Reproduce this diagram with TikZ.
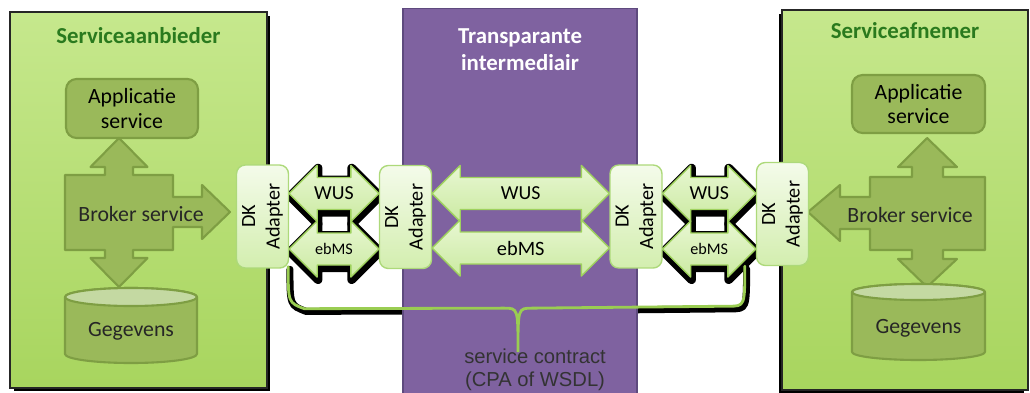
\documentclass[tikz,border=0pt]{standalone}
\usepackage{fontspec}
\setmainfont{Carlito}
\newfontfamily\arialfont{Liberation Sans}
\usetikzlibrary{positioning,calc,shadows}

\definecolor{limetop}{HTML}{C6E88D}
\definecolor{limebottom}{HTML}{A8D55E}
\definecolor{titlegreen}{HTML}{2A7A1E}
\definecolor{purplefill}{HTML}{7F62A0}
\definecolor{purpleline}{HTML}{5E4A7E}
\definecolor{olivefill}{HTML}{9AB95A}
\definecolor{oliveline}{HTML}{7E9E43}
\definecolor{olivetop}{HTML}{C4D9A2}
\definecolor{adaptertop}{HTML}{F4FBEA}
\definecolor{adapterbottom}{HTML}{D3EEAF}
\definecolor{adapterline}{HTML}{ADD97A}
\definecolor{arrowtop}{HTML}{E8F7D2}
\definecolor{arrowbottom}{HTML}{CBEAA2}
\definecolor{arrowline}{HTML}{9FD25E}
\definecolor{contractgreen}{HTML}{9ACD52}

\pgfdeclarelayer{back}
\pgfsetlayers{back,main}

\tikzset{
    lime-box/.style = {draw=black!85, line width=1pt, top color=limetop, bottom color=limebottom, rectangle, inner sep=0pt},
    purple-box/.style = {draw=purpleline, fill=purplefill, line width=1pt, rectangle, inner sep=0pt},
    box-title/.style = {font=\fontsize{13}{15.5}\selectfont\bfseries, align=center},
    inner-box/.style = {draw=oliveline, fill=olivefill, line width=1.2pt, rounded corners=6pt, align=center, font=\fontsize{12.4}{14.2}\selectfont, inner sep=0pt},
    inner-shape/.style = {draw=oliveline, fill=olivefill, line width=1.2pt, line join=round},
    inner-text/.style = {font=\fontsize{12.4}{14.2}\selectfont, text=black!85},
    adapter-box/.style = {draw=adapterline, top color=adaptertop, bottom color=adapterbottom, line width=0.8pt, rounded corners=5pt, minimum width=1.04cm, minimum height=2.06cm, inner sep=0pt, font=\fontsize{11.5}{14}\selectfont},
    link-arrow/.style = {draw=arrowline, top color=arrowtop, bottom color=arrowbottom, line width=0.8pt, line join=round},
    link-shadow/.style = {fill=black, draw=black, line width=5pt, line join=round, transform canvas={shift={(0.5pt,-1.5pt)}}},
    link-label/.style = {font=\fontsize{#1}{#1}\selectfont},
    contract-line/.style = {draw=contractgreen, line width=1.6pt, line cap=round},
}

\newcommand{\dkadapter}{\rotatebox{90}{\begin{tabular}{@{}c@{}}DK\\Adapter\end{tabular}}}

% outline of a double arrow between (#1-l) and (#1-r)
\newcommand{\arrowpath}[1]{(#1-l) -- ++(28,-28) -- ++(0,12) -- ($(#1-r)+(-28,-16)$) -- ++(0,-12) -- (#1-r)
    -- ++(-28,28) -- ++(0,-12) -- ($(#1-l)+(28,16)$) -- ++(0,12) -- cycle}

% double arrow between two adapters, at height #3
\newcommand{\biarrow}[5]{%
    \coordinate (#4-l) at (#1.east |- 0,#3);
    \coordinate (#4-r) at (#2.west |- 0,#3);
    \begin{pgfonlayer}{back}
        \path[link-shadow] \arrowpath{#4};
    \end{pgfonlayer}
    \path[link-arrow] \arrowpath{#4};
    \node[link-label=#5] (#4) at ($(#4-l)!.5!(#4-r)$) {};
}

\begin{document}
\begin{tikzpicture}[x=0.02cm, y=-0.02cm]
\useasboundingbox (0,0) rectangle (1030,392);

% the three parties
\node[purple-box, minimum width=4.68cm, minimum height=7.9cm] (broker) at (520,206) {};
\node[lime-box, minimum width=5.14cm, minimum height=7.52cm, drop shadow={shadow xshift=2pt, shadow yshift=-2pt, fill=black, opacity=1}] (provider) at (138.5,200) {};
\node[lime-box, minimum width=4.92cm, minimum height=7.6cm, drop shadow={shadow xshift=-2pt, shadow yshift=-2pt, fill=black, opacity=1}] (consumer) at (905,200) {};

\node[box-title, text=titlegreen, below=0.2cm] at (provider.north) {Serviceaanbieder};
\node[box-title, text=titlegreen, below=0.14cm] at (consumer.north) {Serviceafnemer};
\node[box-title, text=white, below=0.3cm] at (broker.north) {Transparante\\intermediair};

% provider side
\node[inner-box, minimum width=2.64cm, minimum height=1.18cm] (app-a) at (132,108.5) {Applicatie\\service};
\path[inner-shape] (65,175) -- (105,175) -- (105,167) -- (90.5,167) -- (119,138) -- (147.5,167) -- (133,167) -- (133,175)
    -- (173,175) -- (173,197) -- (202,197) -- (202,185) -- (230,212) -- (202,239) -- (202,227) -- (173,227) -- (173,250)
    -- (133,250) -- (133,258) -- (147.5,258) -- (119,287) -- (90.5,258) -- (105,258) -- (105,250) -- (65,250) -- cycle;
\node[inner-text] (broker-a) at (141,214) {Broker service};
\path[inner-shape] (65,297) -- (65,354) arc[start angle=180, end angle=360, x radius=1.32cm, y radius=0.18cm]
    -- (197,297) arc[start angle=0, end angle=180, x radius=1.32cm, y radius=0.18cm] -- cycle;
\path[inner-shape, fill=olivetop] (131,297) ellipse[x radius=1.32cm, y radius=0.18cm];
\node[inner-text] (data-a) at (131,331) {Gegevens};

% consumer side
\node[inner-box, minimum width=2.66cm, minimum height=1.16cm] (app-b) at (918.5,104) {Applicatie\\service};
\path[inner-shape] (985,177) -- (943,177) -- (943,167) -- (957,167) -- (927,138) -- (898,167) -- (912,167) -- (912,177)
    -- (870,177) -- (870,197) -- (840,197) -- (840,185) -- (808,212) -- (840,241) -- (840,229) -- (870,229) -- (870,250)
    -- (912,250) -- (912,259) -- (898,259) -- (927,287) -- (957,259) -- (943,259) -- (943,250) -- (985,250) -- cycle;
\node[inner-text] (broker-b) at (910,215) {Broker service};
\path[inner-shape] (852,292) -- (852,352) arc[start angle=180, end angle=360, x radius=1.33cm, y radius=0.16cm]
    -- (985,292) arc[start angle=0, end angle=180, x radius=1.33cm, y radius=0.16cm] -- cycle;
\path[inner-shape, fill=olivetop] (918.5,292) ellipse[x radius=1.33cm, y radius=0.16cm];
\node[inner-text] (data-b) at (918.5,328) {Gegevens};

% adapters (placed first as anchors, drawn on top at the end)
\foreach \name/\x/\y in {a/262.5/216.5, b/405.5/217, c/636/216.5, d/782.5/214}
    \coordinate (adapter-\name) at (\x,\y);
\foreach \name in {a,b,c,d}
    \path (adapter-\name) node[adapter-box, draw=none, shade=none, opacity=0] (adapter-\name) {\dkadapter};

% message channels
\biarrow{adapter-a}{adapter-b}{193.5}{wus-a}{11.3}
\biarrow{adapter-a}{adapter-b}{249}{ebms-a}{9.2}
\biarrow{adapter-b}{adapter-c}{193.5}{wus-b}{11.3}
\biarrow{adapter-b}{adapter-c}{248}{ebms-b}{11.6}
\biarrow{adapter-c}{adapter-d}{193.5}{wus-c}{11.3}
\biarrow{adapter-c}{adapter-d}{249}{ebms-c}{9.2}
\node[link-label=11.3] at (wus-a) {WUS};
\node[link-label=9.2] at (ebms-a) {ebMS};
\node[link-label=11.3] at (wus-b) {WUS};
\node[link-label=11.6] at (ebms-b) {ebMS};
\node[link-label=11.3] at (wus-c) {WUS};
\node[link-label=9.2] at (ebms-c) {ebMS};

% service contract brace
\node[font=\arialfont\fontsize{11.5}{13.2}\selectfont, text=black!80, align=center, inner sep=0pt] (contract) at (535,369.5) {service contract\\(CPA of WSDL)};
\coordinate (brace-l) at ($(adapter-a.south east)+(-1,-2)$);
\coordinate (brace-r) at ($(adapter-d.south west)+(-11,0)$);
\coordinate (tip) at ($(contract.north)+(-17,4)$);
\newcommand{\bracepath}{(brace-l) .. controls ($(brace-l)+(0,36)$) .. ($(brace-l)+(16,42)$) -- ($(tip)+(-14,-44)$)
    .. controls ($(tip)+(0,-44)$) .. (tip) .. controls ($(tip)+(0,-44)$) .. ($(tip)+(14,-44)$)
    -- ($(brace-r)+(-16,40)$) .. controls ($(brace-r)+(0,40)$) .. (brace-r)}
\begin{pgfonlayer}{back}
    \draw[black, line width=4pt, line cap=round, transform canvas={shift={(1pt,-1.5pt)}}] \bracepath;
\end{pgfonlayer}
\draw[contract-line] \bracepath;

% adapters on top
\foreach \name in {a,b,c,d}
    \node[adapter-box] at (adapter-\name) {\dkadapter};
\end{tikzpicture}
\end{document}
